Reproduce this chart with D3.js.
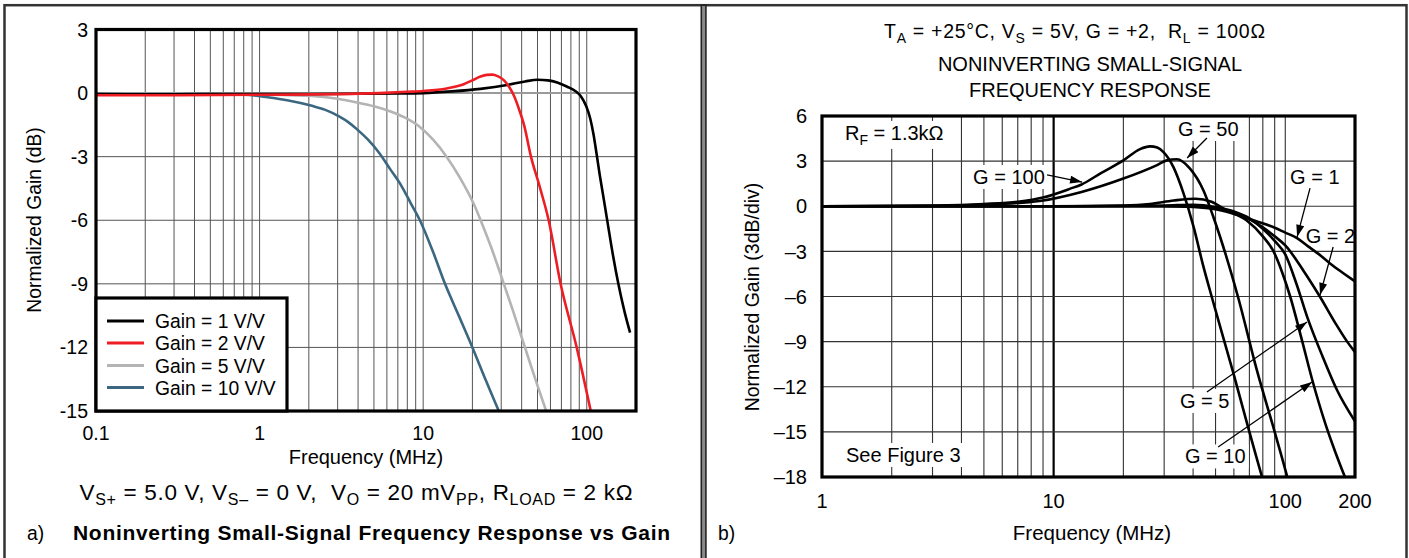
<!DOCTYPE html>
<html><head><meta charset="utf-8">
<script src="https://cdn.jsdelivr.net/npm/d3@7"></script>
<style>
html,body{margin:0;padding:0;background:#fff;}
svg{display:block;font-family:"Liberation Sans",Arial,Helvetica,sans-serif;}
text{white-space:pre;}
</style></head><body>
<svg id="chart" width="1409" height="558"></svg>
<script>
// ---------------- DATA: left panel (a) ----------------
const leftXTicks = [0.1, 1, 10, 100];
const leftXTickLabels = ["0.1", "1", "10", "100"];
const leftYTicks = [3, 0, -3, -6, -9, -12, -15];
const leftYTickLabels = ["3", "0", "-3", "-6", "-9", "-12", "-15"];
const leftSeriesNames = ["Gain = 1 V/V", "Gain = 2 V/V", "Gain = 5 V/V", "Gain = 10 V/V"];

const gain1Freq = [0.1, 0.2, 0.5, 1, 2, 4, 7, 10, 15, 22.4, 32.6, 42, 50, 58, 66, 76, 85, 92, 99, 105, 110, 115, 120, 127, 134, 145, 156, 170, 184];
const gain1dB   = [-0.05, -0.06, -0.05, -0.05, -0.04, -0.03, -0.02, 0.0, 0.08, 0.2, 0.38, 0.55, 0.63, 0.6, 0.5, 0.3, 0.1, -0.15, -0.6, -1.2, -1.95, -2.9, -3.85, -5.0, -6.1, -7.7, -9.0, -10.3, -11.3];

const gain2Freq = [0.1, 0.3, 1, 3, 5.4, 8, 10, 13.9, 17.7, 20, 22.4, 24.5, 26.5, 28.5, 31.2, 33.5, 35.9, 38.5, 41.5, 45.6, 51.5, 58.5, 69.2, 86.8, 105.8, 110];
const gain2dB   = [-0.1, -0.1, -0.08, -0.05, 0.0, 0.06, 0.1, 0.22, 0.42, 0.6, 0.78, 0.86, 0.87, 0.8, 0.6, 0.3, -0.13, -0.75, -1.55, -3.0, -4.4, -6.0, -9.0, -12.0, -15.0, -15.6];

const gain5Freq = [0.1, 0.3, 0.6, 1, 1.5, 2.09, 3, 3.93, 5, 6.13, 7.7, 9.55, 11.5, 13.9, 16.8, 20.3, 23, 26.1, 30.5, 35.5, 41.9, 48.5, 56.5, 60];
const gain5dB   = [-0.05, -0.05, -0.06, -0.07, -0.1, -0.13, -0.27, -0.44, -0.62, -0.83, -1.15, -1.6, -2.2, -3.0, -4.0, -5.2, -6.2, -7.3, -8.8, -10.3, -12.0, -13.5, -15.0, -15.6];

const gain10Freq = [0.1, 0.2, 0.4, 0.6, 0.81, 1.12, 1.5, 2.09, 2.5, 3.06, 3.5, 3.93, 4.6, 5.36, 6.3, 7.39, 8.4, 9.55, 11.5, 13.6, 16.5, 20, 24, 29, 31];
const gain10dB   = [-0.05, -0.05, -0.05, -0.06, -0.08, -0.2, -0.35, -0.6, -0.78, -1.1, -1.38, -1.7, -2.2, -2.8, -3.6, -4.4, -5.2, -6.0, -7.5, -9.0, -10.5, -12.0, -13.5, -15.0, -15.5];

// ---------------- DATA: right panel (b) ----------------
const rightXTicks = [1, 10, 100, 200];
const rightXTickLabels = ["1", "10", "100", "200"];
const rightYTicks = [6, 3, 0, -3, -6, -9, -12, -15, -18];
const rightYTickLabels = ["6", "3", "0", "\u20133", "\u20136", "\u20139", "\u201312", "\u201315", "\u201318"];

const rG1Freq = [1, 10, 30, 40, 50, 63, 75, 89, 100, 112, 125, 140, 156, 180, 200];
const rG1dB   = [0, 0, 0, -0.05, -0.2, -0.6, -1.0, -1.4, -1.75, -2.1, -2.65, -3.2, -3.8, -4.5, -5.0];

const rG2Freq = [1, 10, 30, 40, 50, 60, 70, 80, 90, 100, 120, 141, 165, 185, 200];
const rG2dB   = [0, 0, 0, -0.02, -0.15, -0.4, -0.85, -1.4, -2.0, -2.6, -4.3, -6.0, -7.8, -9.0, -9.7];

const rG5Freq = [1, 10, 30, 40, 50, 60, 70, 80, 90, 100, 112, 124, 145, 167, 200];
const rG5dB   = [0, 0, 0.05, 0.1, -0.05, -0.35, -0.8, -1.5, -2.3, -3.2, -5.2, -7.3, -10.0, -12.2, -14.3];

const rG10Freq = [1, 10, 20, 26, 33, 41, 48, 55.7, 68, 80, 89, 97, 105, 118, 130, 150, 165, 181, 190];
const rG10dB   = [0, 0, 0.05, 0.15, 0.38, 0.5, 0.3, -0.27, -0.93, -2.0, -3.0, -4.4, -6.0, -8.9, -11.4, -14.6, -16.4, -18.0, -18.8];

const rG50Freq = [1, 3, 5, 8.7, 13.2, 20, 27.8, 30.8, 34, 38.8, 44.3, 48.9, 55.7, 62.7, 75.4, 90, 102, 106];
const rG50dB   = [0, 0.03, 0.1, 0.35, 0.95, 1.84, 2.72, 3.05, 3.12, 2.5, 1.06, -0.7, -3.36, -6.1, -10.9, -15.0, -18.0, -19];

const rG100Freq = [1, 3, 5, 7, 9, 11.8, 13.2, 16, 20, 23.6, 26.1, 28, 29.8, 32.9, 36.4, 40.2, 44.3, 48.3, 59.7, 70, 79.4, 83];
const rG100dB   = [0, 0.05, 0.15, 0.3, 0.58, 1.17, 1.45, 2.2, 3.05, 3.8, 3.98, 3.9, 3.6, 2.6, 0.84, -1.37, -4.0, -6.1, -11.1, -15.0, -18.0, -19];

// annotation labels (text, label freq/dB, arrow start freq/dB, arrow tip freq/dB)
const annoText     = ["G = 100", "G = 50", "G = 1", "G = 2", "G = 5", "G = 10"];
const annoLabelF   = [4.49, 34.4, 104.9, 122.5, 35.1, 36.9];
const annoLabeldB  = [1.48, 4.67, 1.48, -2.44, -13.41, -17.1];
const annoFromF    = [9.37, 45.9, 127.9, 160.9, 45.9, 51.3];
const annoFromdB   = [2.08, 4.54, 1.21, -2.71, -12.35, -16.0];
const annoTipF     = [13.27, 37.7, 112.5, 141.3, 124.2, 130.5];
const annoTipdB    = [1.61, 3.21, -2.04, -5.9, -7.7, -11.69];

// ---------------- STYLE ----------------
const leftColors = ["#000000", "#ee1d24", "#b4b4b4", "#3c6780"];
const FONT = 19.3;
const FONT_R = 20;

const zip = (a, b) => a.map((v, i) => [v, b[i]]);
const svg = d3.select("#chart");
const defs = svg.append("defs");

// outer frame + separator
svg.append("rect").attr("x", 4.5).attr("y", 5.2).attr("width", 1402).attr("height", 620)
  .attr("fill", "none").attr("stroke", "#333").attr("stroke-width", 2.5);
svg.append("rect").attr("x", 701.3).attr("y", 5.2).attr("width", 4.6).attr("height", 620)
  .attr("fill", "#8a8a8a").attr("stroke", "#222").attr("stroke-width", 1.6);

function subText(sel, parts, subSize, shift) {
  let prev = 0;
  parts.forEach(([t, s]) => {
    const ts = sel.append("tspan").text(t);
    if (s) ts.attr("font-size", subSize);
    ts.attr("dy", s === prev ? 0 : (s ? shift : -shift));
    prev = s;
  });
}

// ================= LEFT PANEL =================
const xL = d3.scaleLog().domain([0.1, 200]).range([96, 636]);
const yL = d3.scaleLinear().domain([-15, 3]).range([411, 29.5]);
const gL = svg.append("g");

defs.append("clipPath").attr("id", "clipL").append("rect")
  .attr("x", 96).attr("y", 29.5).attr("width", 540).attr("height", 381.5);

const leftGridF = [];
[0.1, 1, 10, 100].forEach(d => { for (let k = 1; k <= 9; k++) { const f = d * k; if (f > 0.1 && f < 200) leftGridF.push(f); } });
gL.selectAll(".vgl").data(leftGridF).join("line")
  .attr("x1", d => xL(d)).attr("x2", d => xL(d)).attr("y1", yL(3)).attr("y2", yL(-15))
  .attr("stroke", "#555").attr("stroke-width", 1);
gL.selectAll(".hgl").data(leftYTicks.filter(v => v < 3 && v > -15)).join("line")
  .attr("x1", xL(0.1)).attr("x2", xL(200)).attr("y1", d => yL(d)).attr("y2", d => yL(d))
  .attr("stroke", d => d === 0 ? "#9a9a9a" : "#555").attr("stroke-width", d => d === 0 ? 2 : 1);

const lineL = d3.line().x(d => xL(d[0])).y(d => yL(d[1])).curve(d3.curveMonotoneX);
const leftSeries = [zip(gain1Freq, gain1dB), zip(gain2Freq, gain2dB), zip(gain5Freq, gain5dB), zip(gain10Freq, gain10dB)];
const drawOrder = [3, 2, 0, 1];
gL.append("g").attr("clip-path", "url(#clipL)").selectAll("path").data(drawOrder).join("path")
  .attr("d", i => lineL(leftSeries[i])).attr("fill", "none")
  .attr("stroke", i => leftColors[i]).attr("stroke-width", 2.6).attr("stroke-linejoin", "round");

gL.append("rect").attr("x", 96).attr("y", 29.5).attr("width", 540).attr("height", 381.5)
  .attr("fill", "none").attr("stroke", "#000").attr("stroke-width", 3.2);

gL.selectAll(".ylab").data(leftYTicks).join("text")
  .attr("x", 88).attr("y", d => yL(d)).attr("dy", "0.36em").attr("text-anchor", "end")
  .attr("font-size", 19.5).text((d, i) => leftYTickLabels[i]);
gL.selectAll(".xlab").data(leftXTicks).join("text")
  .attr("x", d => xL(d)).attr("y", 440).attr("text-anchor", "middle")
  .attr("font-size", 19.5).text((d, i) => leftXTickLabels[i]);
gL.append("text").attr("x", 366).attr("y", 464).attr("text-anchor", "middle").attr("font-size", 20).text("Frequency (MHz)");
gL.append("text").attr("transform", "translate(41,220) rotate(-90)").attr("text-anchor", "middle").attr("font-size", 19.3).text("Normalized Gain (dB)");

// legend
const leg = gL.append("g");
leg.append("rect").attr("x", 96).attr("y", 298).attr("width", 191).attr("height", 113)
  .attr("fill", "#fff").attr("stroke", "#000").attr("stroke-width", 3.2);
const legRows = [321, 343, 365.5, 387.5];
leftSeriesNames.forEach((n, i) => {
  leg.append("line").attr("x1", 107).attr("x2", 144).attr("y1", legRows[i]).attr("y2", legRows[i])
    .attr("stroke", leftColors[i]).attr("stroke-width", 3);
  leg.append("text").attr("x", 155).attr("y", legRows[i] + 7).attr("font-size", FONT).text(n);
});

// conditions text
const cond = gL.append("text").attr("x", 79.5).attr("y", 500).attr("font-size", 22.5)
  .attr("textLength", 553).attr("lengthAdjust", "spacing");
subText(cond, [["V", 0], ["S+", 1], [" = 5.0 V, V", 0], ["S\u2013", 1], [" = 0 V,  V", 0], ["O", 1], [" = 20 mV", 0], ["PP", 1], [", R", 0], ["LOAD", 1], [" = 2 k\u03A9", 0]], 16, 5);

gL.append("text").attr("x", 27).attr("y", 540).attr("font-size", FONT).text("a)");
gL.append("text").attr("x", 73).attr("y", 540).attr("font-size", 21).attr("font-weight", "bold")
  .attr("textLength", 597).attr("lengthAdjust", "spacing")
  .text("Noninverting Small-Signal Frequency Response vs Gain");

// ================= RIGHT PANEL =================
const xR = d3.scaleLog().domain([1, 200]).range([822, 1355]);
const yR = d3.scaleLinear().domain([-18, 6]).range([477, 116]);
const gR = svg.append("g");
defs.append("clipPath").attr("id", "clipR").append("rect")
  .attr("x", 822).attr("y", 116).attr("width", 533).attr("height", 361);

const rightGridF = [];
[1, 10, 100].forEach(d => { for (let k = 1; k <= 9; k++) { const f = d * k; if (f > 1 && f < 200) rightGridF.push(f); } });
gR.selectAll(".vgr").data(rightGridF).join("line")
  .attr("x1", d => xR(d)).attr("x2", d => xR(d)).attr("y1", yR(6)).attr("y2", yR(-18))
  .attr("stroke", d => d === 10 ? "#000" : "#333").attr("stroke-width", d => d === 10 ? 2.2 : 1.1);
gR.selectAll(".hgr").data(rightYTicks.filter(v => v < 6 && v > -18)).join("line")
  .attr("x1", xR(1)).attr("x2", xR(200)).attr("y1", d => yR(d)).attr("y2", d => yR(d))
  .attr("stroke", "#333").attr("stroke-width", 1.1);

const labelG = gR.append("g");
function boxedText(x, y, txt, subFn) {
  const g = labelG.append("g");
  const r = g.append("rect").attr("fill", "#fff");
  const t = g.append("text").attr("x", x).attr("y", y).attr("font-size", FONT_R);
  if (subFn) subFn(t); else t.text(txt);
  const bb = t.node().getBBox();
  r.attr("x", bb.x - 3).attr("y", bb.y - 1).attr("width", bb.width + 6).attr("height", bb.height + 2);
  return g;
}
boxedText(xR(1.257), yR(4.41), null, t => subText(t, [["R", 0], ["F", 1], [" = 1.3k\u03A9", 0]], 14, 5));
boxedText(xR(1.27), yR(-17.0), "See Figure 3");
annoText.forEach((t, i) => boxedText(xR(annoLabelF[i]), yR(annoLabeldB[i]), t));

const lineR = d3.line().x(d => xR(d[0])).y(d => yR(d[1])).curve(d3.curveMonotoneX);
const rightSeries = [zip(rG1Freq, rG1dB), zip(rG2Freq, rG2dB), zip(rG5Freq, rG5dB), zip(rG10Freq, rG10dB), zip(rG50Freq, rG50dB), zip(rG100Freq, rG100dB)];
gR.append("g").attr("clip-path", "url(#clipR)").selectAll("path").data(rightSeries).join("path")
  .attr("d", d => lineR(d)).attr("fill", "none").attr("stroke", "#000").attr("stroke-width", 2.6)
  .attr("stroke-linejoin", "round");

defs.append("marker").attr("id", "arrow").attr("viewBox", "0 0 12 8").attr("refX", 12).attr("refY", 4)
  .attr("markerWidth", 13).attr("markerHeight", 8).attr("markerUnits", "userSpaceOnUse").attr("orient", "auto")
  .append("path").attr("d", "M0,0 L12,4 L0,8 Z").attr("fill", "#000");
gR.selectAll(".arr").data(annoText.map((t, i) => i)).join("line")
  .attr("x1", i => xR(annoFromF[i])).attr("y1", i => yR(annoFromdB[i]))
  .attr("x2", i => xR(annoTipF[i])).attr("y2", i => yR(annoTipdB[i]))
  .attr("stroke", "#000").attr("stroke-width", 1.3).attr("marker-end", "url(#arrow)");

gR.append("rect").attr("x", 822).attr("y", 116).attr("width", 533).attr("height", 361)
  .attr("fill", "none").attr("stroke", "#000").attr("stroke-width", 3.2);

gR.selectAll(".yl").data(rightYTicks).join("text")
  .attr("x", 807).attr("y", d => yR(d)).attr("dy", "0.36em").attr("text-anchor", "end")
  .attr("font-size", FONT_R).text((d, i) => rightYTickLabels[i]);
gR.selectAll(".xl").data(rightXTicks).join("text")
  .attr("x", d => xR(d)).attr("y", 508).attr("text-anchor", "middle")
  .attr("font-size", FONT_R).text((d, i) => rightXTickLabels[i]);
gR.append("text").attr("x", 1092).attr("y", 540).attr("text-anchor", "middle").attr("font-size", 20.5).text("Frequency (MHz)");
gR.append("text").attr("transform", "translate(759,297) rotate(-90)").attr("text-anchor", "middle").attr("font-size", 19.5).text("Normalized Gain (3dB/div)");
gR.append("text").attr("x", 718).attr("y", 540).attr("font-size", FONT).text("b)");

const t1 = gR.append("text").attr("x", 884).attr("y", 38).attr("font-size", 19.5)
  .attr("textLength", 381).attr("lengthAdjust", "spacing");
subText(t1, [["T", 0], ["A", 1], [" = +25\u00B0C, V", 0], ["S", 1], [" = 5V, G = +2,  R", 0], ["L", 1], [" = 100\u03A9", 0]], 14, 5);
gR.append("text").attr("x", 1090).attr("y", 70.5).attr("text-anchor", "middle").attr("font-size", 20).text("NONINVERTING SMALL-SIGNAL");
gR.append("text").attr("x", 1090).attr("y", 96.5).attr("text-anchor", "middle").attr("font-size", 20).text("FREQUENCY RESPONSE");
</script>
</body></html>
